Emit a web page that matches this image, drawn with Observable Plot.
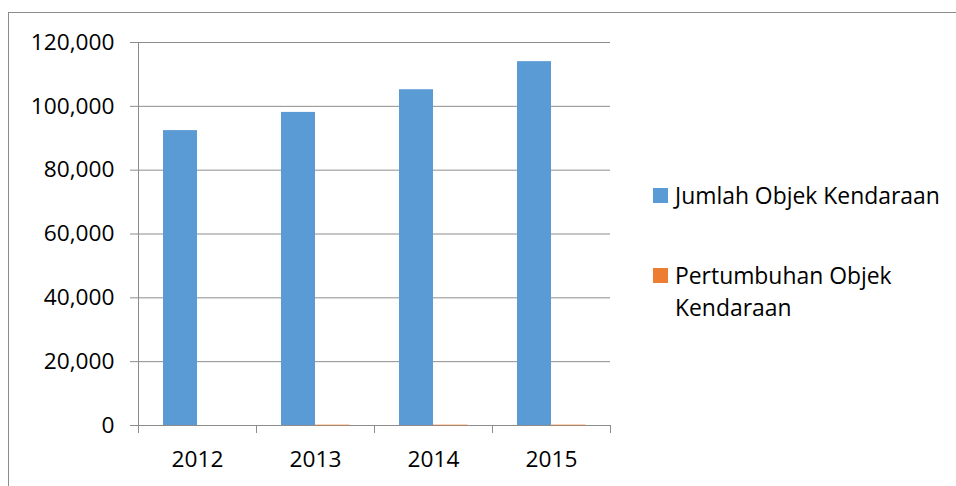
<!DOCTYPE html>
<html>
<head>
<meta charset="utf-8">
<script src="https://cdn.jsdelivr.net/npm/d3@7"></script>
<script src="https://cdn.jsdelivr.net/npm/@observablehq/plot@0.6"></script>
<style>
  html, body { margin: 0; padding: 0; background: #fff; overflow: hidden; }
  #wrap { position: relative; width: 956px; height: 486px; overflow: hidden; font-family: "Open Sans", sans-serif; }
  #border { position: absolute; left: 8px; top: 12px; width: 1200px; height: 1200px; border: 1px solid #8c8c8c; box-sizing: border-box; }
  #chart { position: absolute; left: 0; top: 0; }
  .item { position: absolute; left: 653px; display: flex; align-items: flex-start; font-size: 22.9px; line-height: 32px; color: #000; }
  .sw { width: 15px; height: 15px; margin-top: 8px; margin-right: 7px; flex: none; }
  .lt { width: 280px; }
</style>
</head>
<body>
<div id="wrap">
  <div id="border"></div>
  <div id="chart"></div>
  <div id="legend"></div>
</div>
<script>
// ---- data ----
const years = ["2012", "2013", "2014", "2015"];
const series = ["Jumlah Objek Kendaraan", "Pertumbuhan Objek Kendaraan"];
const jumlah = [92400, 98100, 105200, 114000];
const pertumbuhan = [null, 6.2, 7.2, 8.4];
const yTicks = [0, 20000, 40000, 60000, 80000, 100000, 120000];
const colors = ["#5B9BD5", "#ED7D31"];

const data = years.flatMap((yr, i) => [
  { year: yr, series: series[0], value: jumlah[i] },
  { year: yr, series: series[1], value: pertumbuhan[i] }
]);

const gray = "#8c8c8c";
const chart = Plot.plot({
  width: 956,
  height: 486,
  marginLeft: 138,
  marginRight: 346,
  marginTop: 42,
  marginBottom: 61,
  style: { fontFamily: "Open Sans, sans-serif", fontSize: "22.7px", color: "#000", background: "transparent", overflow: "visible" },
  fx: { domain: years, padding: 0, label: null },
  x: { domain: series, paddingInner: 0, paddingOuter: 0.735, axis: null },
  y: { domain: [0, 120000], label: null },
  color: { domain: series, range: colors },
  marks: [
    Plot.gridY(yTicks, { stroke: gray, strokeOpacity: 1 }),
    Plot.barY(data.filter(d => d.series === series[0]), { fx: "year", x: "series", y: "value", fill: "series" }),
    Plot.barY(data.filter(d => d.series === series[1] && d.value != null), { fx: "year", x: "series", y: "value", fill: "series", stroke: "series", strokeWidth: 1, strokeOpacity: 0.6 }),
    Plot.axisY(yTicks, { tickFormat: d3.format(","), tickSize: 8, tickPadding: 16, stroke: gray, fill: "#000", label: null }),
    Plot.axisFx({ anchor: "bottom", tickSize: 0, tickPadding: 25, fill: "#000", label: null })
  ]
});
document.getElementById("chart").appendChild(chart);

// category boundary ticks and vertical axis line, positioned through Plot's scales
const fxs = chart.scale("fx");
const ys = chart.scale("y");
const bounds = years.map(y => fxs.apply(y)).concat([fxs.apply(years[years.length - 1]) + fxs.step]);
const y0 = ys.apply(0);
const g = d3.select(chart).append("g").attr("stroke", gray).attr("stroke-width", 1).attr("fill", "none");
g.selectAll("line.b").data(bounds).join("line")
  .attr("x1", d => Math.round(d) + 0.5).attr("x2", d => Math.round(d) + 0.5)
  .attr("y1", y0).attr("y2", y0 + 8);
g.append("line")
  .attr("x1", Math.round(bounds[0]) + 0.5).attr("x2", Math.round(bounds[0]) + 0.5)
  .attr("y1", ys.apply(120000)).attr("y2", y0);

// legend
const legend = document.getElementById("legend");
const legendTops = [180, 260];
series.forEach((s, i) => {
  const item = document.createElement("div");
  item.className = "item";
  item.style.top = legendTops[i] + "px";
  const sw = document.createElement("div");
  sw.className = "sw";
  sw.style.background = colors[i];
  const lt = document.createElement("div");
  lt.className = "lt";
  lt.textContent = s;
  item.appendChild(sw);
  item.appendChild(lt);
  legend.appendChild(item);
});
</script>
</body>
</html>
